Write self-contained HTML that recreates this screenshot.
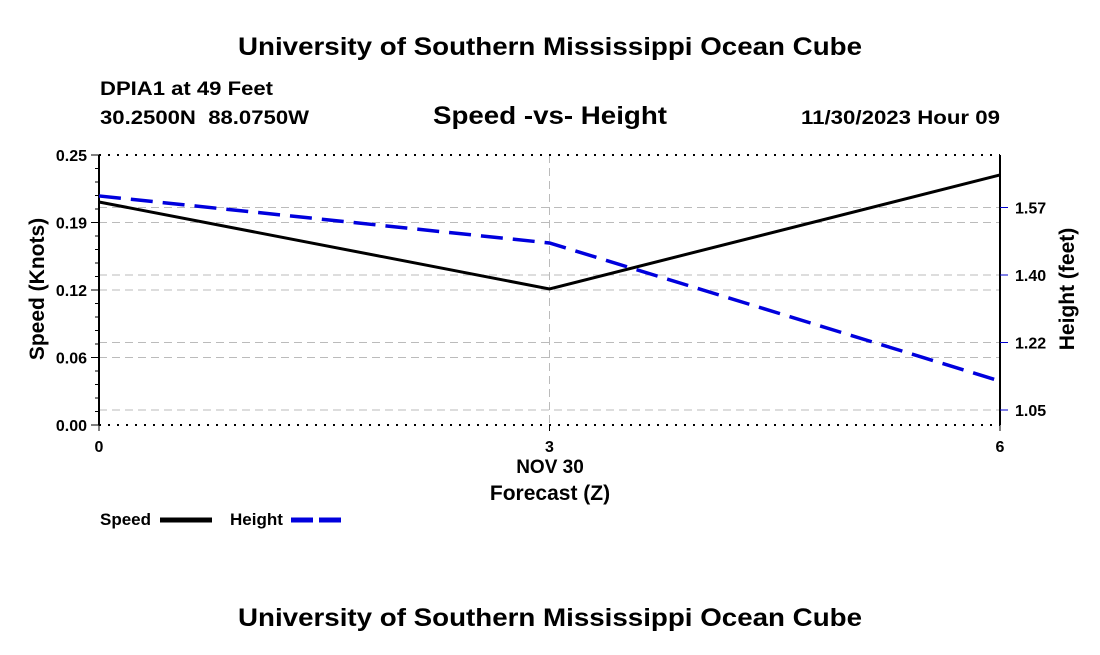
<!DOCTYPE html>
<html><head><meta charset="utf-8"><style>
body{margin:0;background:#fff;font-family:"Liberation Sans",sans-serif;}
svg text{font-family:"Liberation Sans",sans-serif;font-weight:bold;fill:#000}
</style></head><body>
<svg id="c" width="1100" height="650" viewBox="0 0 1100 650">
<text x="238" y="55" font-size="25" textLength="624" lengthAdjust="spacingAndGlyphs">University of Southern Mississippi Ocean Cube</text>
<text x="100" y="95" font-size="19" textLength="173" lengthAdjust="spacingAndGlyphs">DPIA1 at 49 Feet</text>
<text x="100" y="124" font-size="19" textLength="209" lengthAdjust="spacingAndGlyphs" xml:space="preserve">30.2500N  88.0750W</text>
<text x="433" y="124" font-size="25" textLength="234" lengthAdjust="spacingAndGlyphs">Speed -vs- Height</text>
<text x="801" y="124" font-size="19" textLength="199" lengthAdjust="spacingAndGlyphs">11/30/2023 Hour 09</text>
<text x="238" y="626" font-size="25" textLength="624" lengthAdjust="spacingAndGlyphs">University of Southern Mississippi Ocean Cube</text>
<g id="plot"></g>
</svg>
<script>
const xCats=[0,3,6];
const speedVals=[0.2065,0.126,0.2315];
const heightVals=[1.605,1.483,1.125];
const leftTicks=["0.00","0.06","0.12","0.19","0.25"];
const leftTickVals=[0,0.0625,0.125,0.1875,0.25];
const rightTicks=["1.05","1.22","1.40","1.57"];
const rightTickVals=[1.05,1.225,1.40,1.575];
const L=99,R=1000,T=155,B=425;
const xs=v=>L+(v-0)/6*(R-L);
const ys=v=>B-v/0.25*(B-T);
const yh=v=>410-(v-1.05)/0.175*67.5;
const g=document.getElementById('plot');
const NS='http://www.w3.org/2000/svg';
function mk(t,a){const e=document.createElementNS(NS,t);for(const k in a)e.setAttribute(k,a[k]);g.appendChild(e);return e;}
leftTickVals.slice(1,4).forEach(v=>{const e=mk('line',{x1:L,x2:R,y1:ys(v),y2:ys(v),stroke:'#bbb','stroke-dasharray':'8,5','stroke-width':1});

});
rightTickVals.forEach(v=>{const e=mk('line',{x1:L,x2:R,y1:yh(v),y2:yh(v),stroke:'#bbb','stroke-dasharray':'8,5','stroke-width':1});

});
{const e=mk('line',{x1:xs(3),x2:xs(3),y1:T,y2:B,stroke:'#bbb','stroke-dasharray':'8,5'});

}
[T,B].forEach(y=>{const e=mk('line',{x1:L,x2:R,y1:y,y2:y,stroke:'#000','stroke-width':2,'stroke-dasharray':'2,7'});

});
{const e=mk('line',{x1:L,x2:L,y1:T,y2:B,stroke:'#000','stroke-width':2});

}
{const e=mk('line',{x1:R,x2:R,y1:T,y2:B,stroke:'#000','stroke-width':2});

}
for(let i=0;i<=20;i++){const y=B-i*(B-T)/20;const maj=i%5==0;mk('line',{x1:maj?L-8:L-4,x2:L,y1:y,y2:y,stroke:'#000','stroke-width':1});}
leftTicks.forEach((t,i)=>{const e=mk('text',{x:L-12,y:ys(leftTickVals[i])+6,'font-size':16,'text-anchor':'end'});e.textContent=t;

});
rightTicks.forEach((t,i)=>{mk('line',{x1:R,x2:R+8,y1:yh(rightTickVals[i]),y2:yh(rightTickVals[i]),stroke:'#00c'});
const e=mk('text',{x:R+15,y:yh(rightTickVals[i])+6,'font-size':16});e.textContent=t;

});
xCats.forEach(v=>{mk('line',{x1:xs(v),x2:xs(v),y1:B,y2:B+6,stroke:'#000'});
const e=mk('text',{x:xs(v),y:B+27,'font-size':16,'text-anchor':'middle'});e.textContent=v;

});
{const e=mk('text',{x:550,y:473,'font-size':19,'text-anchor':'middle'});e.textContent='NOV 30';

}
{const e=mk('text',{x:550,y:500,'font-size':21,'text-anchor':'middle'});e.textContent='Forecast (Z)';

}
{const e=mk('text',{x:0,y:0,'font-size':21,'text-anchor':'middle',transform:'translate(44,289) rotate(-90)'});e.textContent='Speed (Knots)';

}
{const e=mk('text',{x:0,y:0,'font-size':21,'text-anchor':'middle',transform:'translate(1074,289) rotate(-90)'});e.textContent='Height (feet)';

}
{const e=mk('polyline',{points:xCats.map((v,i)=>xs(v)+','+ys(speedVals[i])).join(' '),fill:'none',stroke:'#000','stroke-width':3});

}
{const e=mk('polyline',{points:xCats.map((v,i)=>xs(v)+','+yh(heightVals[i])).join(' '),fill:'none',stroke:'#00d','stroke-width':3.5,'stroke-dasharray':'22,10'});

}
{const e=mk('text',{x:100,y:525,'font-size':17});e.textContent='Speed';

}
{const e=mk('line',{x1:160,x2:212,y1:520,y2:520,stroke:'#000','stroke-width':5});

}
{const e=mk('text',{x:230,y:525,'font-size':17});e.textContent='Height';

}
{const e=mk('line',{x1:291,x2:343,y1:520,y2:520,stroke:'#00d','stroke-width':5,'stroke-dasharray':'22,6'});

}
</script>
</body></html>
